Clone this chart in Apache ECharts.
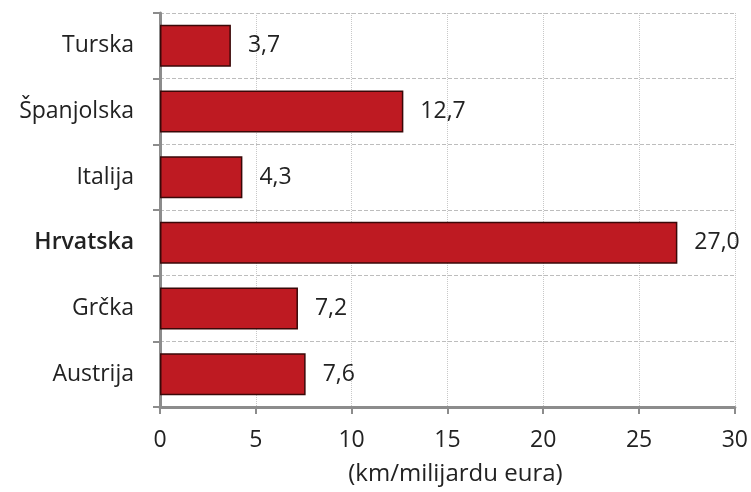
<!DOCTYPE html>
<html><head><meta charset="utf-8">
<script src="https://cdn.jsdelivr.net/npm/echarts@6/dist/echarts.min.js"></script>
<style>html,body{margin:0;padding:0;background:#fff}#c{width:751px;height:492px}</style>
</head><body><div id="c"></div>
<script>
const categories = ['Austrija', 'Grčka', 'Hrvatska', 'Italija', 'Španjolska', 'Turska'];
const values = [7.6, 7.2, 27.0, 4.3, 12.7, 3.7];
const highlight = 'Hrvatska';
const axisName = '(km/milijardu eura)';
const FONT = '"Open Sans", Lato, sans-serif';

const chart = echarts.init(document.getElementById('c'));
chart.setOption({
  animation: false,
  grid: {left: 160, right: 16, top: 13, bottom: 85, containLabel: false},
  xAxis: {
    type: 'value', min: 0, max: 30, interval: 5,
    name: axisName, nameLocation: 'middle', nameGap: 55,
    nameTextStyle: {fontFamily: FONT, fontSize: 24, color: '#222', padding: [0, 0, 0, 16]},
    axisLine: {show: true, lineStyle: {color: '#8c8c8c', width: 3}},
    axisTick: {show: true, length: 7, lineStyle: {color: '#8c8c8c', width: 2}},
    axisLabel: {fontFamily: FONT, fontSize: 23, color: '#222', margin: 22},
    splitLine: {show: true, lineStyle: {color: '#c8c8c8', type: 'dotted', width: 1}}
  },
  yAxis: {
    type: 'category', data: categories,
    axisLine: {show: true, lineStyle: {color: '#8c8c8c', width: 3}},
    axisTick: {show: true, length: 7, lineStyle: {color: '#8c8c8c', width: 2}},
    axisLabel: {
      fontFamily: FONT, fontSize: 23, color: '#222', margin: 26,
      formatter: v => v === highlight ? '{b|' + v + '}' : v,
      rich: {b: {fontFamily: FONT, fontSize: 23, fontWeight: 600, color: '#222'}}
    },
    splitLine: {show: true, lineStyle: {color: '#bdbdbd', type: 'dashed', width: 1}}
  },
  series: [{
    type: 'bar', data: values, barCategoryGap: '36%',
    itemStyle: {color: '#be1a22', borderColor: '#3a0808', borderWidth: 1.5},
    label: {
      show: true, position: 'right', distance: 17,
      fontFamily: FONT, fontSize: 23, color: '#222',
      formatter: p => p.value.toFixed(1).replace('.', ',')
    }
  }]
});
</script></body></html>
